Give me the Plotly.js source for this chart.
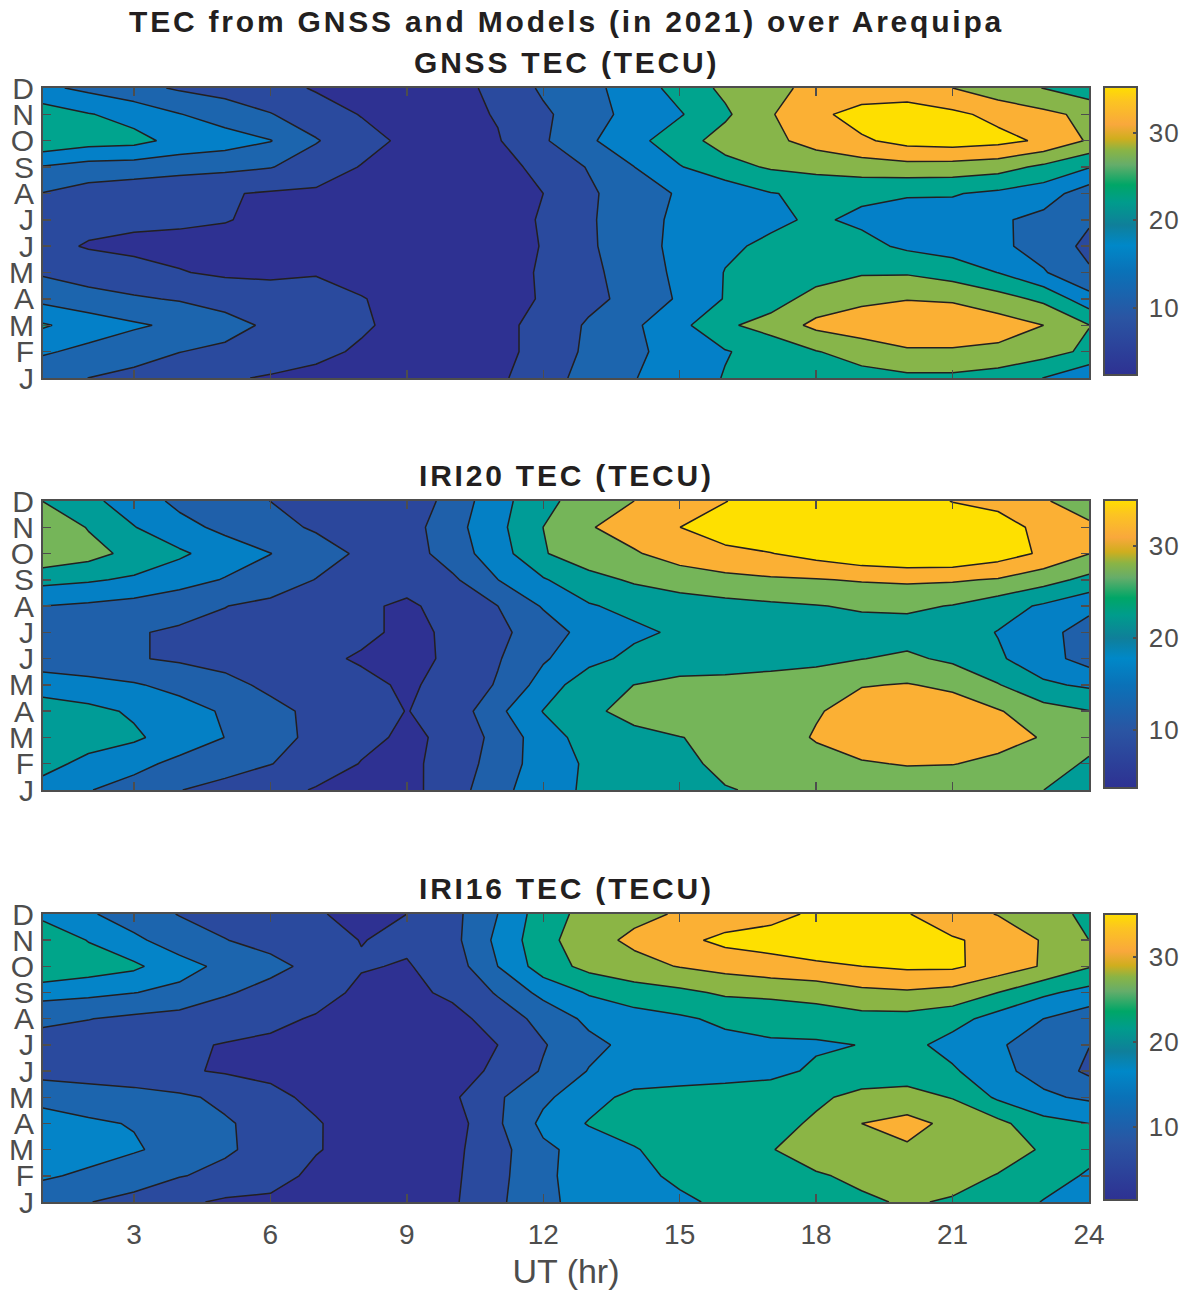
<!DOCTYPE html>
<html>
<head>
<meta charset="utf-8">
<script src="https://cdn.plot.ly/plotly-3.0.1.min.js"></script>
<style>
html,body{margin:0;padding:0;background:#fff}
.annotation-text{letter-spacing:2.8px}
.xtick text{letter-spacing:1.5px}
.cbaxis text{letter-spacing:1px}
</style>
</head>
<body>
<div id="chart" style="width:1192px;height:1290px"></div>
<script>
const hours = [1,2,3,4,5,6,7,8,9,10,11,12,13,14,15,16,17,18,19,20,21,22,23,24];
const monthIndex = [1,2,3,4,5,6,7,8,9,10,11,12];
const monthLabels = ['J','F','M','A','M','J','J','A','S','O','N','D'];
const hourTicks = [3,6,9,12,15,18,21,24];

// rows run J (bottom) to D (top); columns run 1 to 24 UT
const gnssTec = [
[11.5,10.5,9.5,8.3,6.9,6,5.2,4.8,4.4,4.4,5.6,8.9,11.9,14.5,16.5,19,20,20.8,21.5,22,22,21,18.7,15.5],
[15.2,13.5,12,10.6,9.7,8.9,7.5,5.8,5,4.5,5,8,11.3,14,16,18.5,20.3,22.7,24.5,26.4,26.5,26,24.5,22],
[19.2,17,15.2,13.8,12,9.8,8.5,7,5,4.5,5,8,11,14,17.6,22.2,24.5,28,29.5,30.5,30,29,27,23],
[13.5,12,11,10.2,9,8.2,7.6,6.6,5,4.5,4.5,6.8,9.5,11.7,15.2,19,21,24.5,26,26.8,26.5,24.5,22,16.2],
[10,8.7,7.8,6.6,5.8,5.7,6.2,5,4.2,4,4.2,7,9.5,12.5,15.5,18.9,20,21,22.5,22.5,21,18.7,15,11],
[7.5,6.1,5.5,5.3,5,4.6,4.4,4.2,4,4,4.5,6.6,9.9,13,15.7,18.1,19.5,20,20,18,17,15.5,13,9.5],
[8,7.5,7.2,7,6.6,5.5,5,4.5,4.2,4.2,5,6.7,10,13,15.5,17,18,19.3,18,17.5,17.2,15.2,13.5,11],
[10.4,8.8,8,7.3,6.7,6,5.8,5,4.5,4.5,4.8,6.4,9.8,13,15,16,18.6,19.5,19.5,19,19,18,16.5,12.5],
[14.3,13,12.7,12,11.5,10.7,8.5,6.2,4.8,4.5,5,7.5,10.8,14.6,18.5,21.5,23.3,24.2,25,25.5,25.3,24.5,22,19],
[22,20.5,20,17.5,16.5,14.8,10.8,8,5.5,4.8,6.1,10,14,17.5,21.2,24.5,26,28.5,30.5,32.5,33,32.3,30.5,26.5],
[21,19,17.3,14.8,12.7,10.7,8.5,6.2,5,5,6.7,9.8,13,16,18.4,22.2,26.7,30,33,34.5,32,30,28,26],
[15.5,13.7,11.8,10,9,8,6,5,4.6,5.2,7.3,11.2,13.5,16.5,20.3,23.8,26,28,28,27.3,27,24.5,22.8,20.5]
];
const iri20Tec = [
[17.4,15.6,14,11.6,10.5,9.5,7.2,6.8,6.5,9.5,14.5,17.2,20.2,20.8,21.5,23,24,24.5,24.8,25,25,24.8,23.3,20],
[21,18,16.5,14.5,12.8,11.6,10.3,7.4,6.9,8.8,13.5,17.1,20,21,22,24.5,25,25.5,26.9,27.4,27.3,26.5,25,22.8],
[22,21.5,20,17.5,15.4,12.3,11,8.8,6.8,8.5,12.8,17.5,21,22.1,23.2,24,24.9,27.6,29,30.5,29.7,28.3,27,24.5],
[22,20.5,18.8,17,15,12.5,10.7,9.4,7.5,9,14.5,19.5,22.4,24.7,25.2,25.4,25.7,26.8,29,30,29,27.5,24.9,23.4],
[17,16.5,15.8,14.3,12.5,10.8,9.7,8.3,7.2,8.5,11.9,17,22,23.3,24.5,24.6,24.9,25.4,27,27.4,26.5,23.5,20,18.75],
[13.8,13.2,11.8,11,10.4,9.5,8.2,7.3,6.9,8,11.2,15,18,20.5,20.8,21.2,21.8,22.3,23.2,24,22.5,19.9,17,13.8],
[14.2,13.7,11.8,11,10.5,10,9.5,8.2,7,8,10.7,13.3,17,18.5,20,20.5,21,21.3,21.5,21.5,21.2,19.2,16.5,14],
[15.4,14.8,14,12.9,11.6,10.5,9.5,8,7.2,8.5,11.5,15.8,19,20.5,21.5,22,22.6,23.1,23.8,24,23.1,21,18.8,16.3],
[20.5,19.8,18.8,17,15.2,13.8,11.4,9.5,8.5,10.8,15.4,19,22,23.8,25,26.1,26.7,27,27.5,27.8,27.6,26.9,24.8,22.2],
[26.6,24.8,22,20,17.5,15.5,13.5,10.8,9.5,13.5,17.5,23,25.5,26.8,29,30.2,31,32.5,34.2,35,35,33,30.5,27.3],
[27,23,19.5,16.7,14.5,12.9,11,9.5,9.8,14,18.3,23.3,26.9,29,31.1,33,34,35,35,34.7,33.5,32.8,30,28],
[23.2,20.3,17.5,14.5,12.5,11.5,9.5,8.5,8.8,13,18,22,25.5,27.2,29.3,31,33,34,34.5,33,31,30,27.6,25]
];
const iri16Tec = [
[11,9.9,8.8,6.4,5,5,4.3,4,3.8,5,9,13.1,15.5,15.8,17.3,19.2,20,20.8,21.8,22.8,22,20.5,18,15],
[14.6,13.2,11.4,10,8.8,6.8,4.9,4.2,3.8,4.8,8.6,13.2,15.8,16.8,19.2,20,21,22,23.2,24,23.8,22.2,20,17.7],
[16.5,15.7,14.4,12.7,10.3,8.5,5.8,4.5,3.8,4.6,8.3,13.2,15.5,18,19.5,20.5,22.2,24.3,25.5,26,25.8,24.2,22,19.5],
[15,14.5,13.8,12,10.2,8.5,5.9,4,3.5,3.6,9.2,15,18.5,19.5,20,20.3,21,23,26.6,28,25.5,23.5,19.6,18.2],
[13.3,12.3,11.5,10.5,9,6.5,4.8,4,3.5,4.9,9.2,13.2,16.5,19.5,20,20.5,21,21.7,23.5,23.8,22.2,17.5,14.7,13.3],
[8,7.5,7,6.1,5.2,4.8,4.2,3.8,3.4,3.6,6.5,10.2,14.2,15.3,15.8,16.2,16.8,19,20,20.5,18.8,15,12.5,9],
[8.6,8,7.5,6.2,5.4,4.8,4.2,3.8,3.5,3.6,5.6,9.5,12.8,15.3,16.4,17,17.6,17.6,18.3,19.5,16.6,14.6,11.5,9.9],
[10.4,9.9,9,8.2,7.5,6.6,5.2,4.4,4,4,7.7,11,15,16.5,17.6,19,19.8,20.5,21,21,19.8,16.5,14,11.6],
[15.7,15,14.1,13,10.2,8.6,7.3,4.7,4.3,6.6,10.2,15.3,18.6,20.5,21.5,23,23.3,23.8,25.6,26.1,25.2,22.4,19,16.8],
[22,20.5,19,15.5,13,10.8,8.8,5.9,5.3,7.5,14,20.3,23.6,25.2,26.8,28,29.2,30.2,30.8,31.5,31.5,29,26.2,22.7],
[21.5,18,14.8,12,9.9,8.7,7,5.5,6.3,8.5,15,21,25,27.5,29.6,31.9,32.5,33,34.5,34.5,31.2,29.7,26.2,22.4],
[17,14.5,12,9.6,8.6,7.5,5.8,5,5.6,8.5,14,20.5,23.8,25.5,27,28.2,29.5,31.5,33,31,28.5,26.4,24,21.5]
];

const panelTitles = ['GNSS TEC (TECU)','IRI20 TEC (TECU)','IRI16 TEC (TECU)'];
const panelData = [gnssTec, iri20Tec, iri16Tec];
const bandColors = [
  ['#2e3192','#2a4a9e','#1c65ae','#0480c8','#00a48e','#87b54a','#fbb034','#fedf00'],
  ['#2e3192','#2b479c','#1f60aa','#0480c5','#009c97','#75b559','#fbb034','#fee000'],
  ['#2e3192','#2a4a9e','#1c65ae','#0484c8','#00a58a','#8bb545','#fbb034','#fee000']
];
const levelStart = [6.4, 7.6, 5.6];
const levelEnd = [31.2, 31.2, 30.9];
const levelSize = [4.12, 3.92, 4.2];
const barMin = [2.3, 3.7, 1.4];
const barMax = [35.2, 35, 35];

const barScale = [[0,'#2e3192'],[0.2,'#2a55a3'],[0.36,'#0a72b8'],[0.45,'#0088c8'],[0.52,'#0f7f9a'],[0.6,'#009c8c'],[0.66,'#00a667'],[0.73,'#65ad6a'],[0.78,'#8ab445'],[0.82,'#cfae1e'],[0.87,'#f9a83c'],[0.95,'#fcc422'],[1,'#fede00']];

const W = 1192, H = 1290, GREY = '#4d4d4d', TXT = '#231f20';
const plotLeft = 43, plotRight = 1089;
const plotTop = [88, 501, 914], plotBottom = [378, 790, 1202];
const barTop = [87, 500, 914], barBottom = [375, 788, 1200];

const traces = [], layout = {
  width: W, height: H, margin: {l:0,r:0,t:0,b:0}, showlegend:false,
  paper_bgcolor:'#fff', plot_bgcolor:'#fff',
  font:{family:'"Liberation Sans", Arial, sans-serif', color:GREY},
  annotations:[{
    text:'<b>TEC from GNSS and Models (in 2021) over Arequipa</b>', x:566/W, y:1-22/H, xref:'paper', yref:'paper',
    xanchor:'center', yanchor:'middle', showarrow:false, font:{size:30,color:TXT}
  }]
};

panelData.forEach((z,i)=>{
  const n = i+1, ax = n===1?'':String(n);
  traces.push({
    type:'heatmap', x:hours, y:monthIndex, z:z, xaxis:'x'+ax, yaxis:'y'+ax,
    zmin:barMin[i], zmax:barMax[i], colorscale:barScale, hoverinfo:'skip', showscale:true,
    colorbar:{
      x:1104/W, xanchor:'left', xref:'paper', y:1-barBottom[i]/H, yanchor:'bottom', yref:'paper',
      len:(barBottom[i]-barTop[i])/H, lenmode:'fraction', thickness:33, thicknessmode:'pixels',
      xpad:0, ypad:0, outlinecolor:GREY, outlinewidth:2,
      tickvals:[10,20,30], ticks:'inside', ticklen:5, tickwidth:2, tickcolor:GREY,
      tickfont:{size:26,color:GREY}, ticklabelposition:'outside'
    }
  });
  const nb = bandColors[i].length - 1;
  traces.push({
    type:'contour', x:hours, y:monthIndex, z:z, xaxis:'x'+ax, yaxis:'y'+ax,
    showscale:false, line:{color:TXT,width:1.5,smoothing:0},
    contours:{coloring:'fill', start:levelStart[i], end:levelEnd[i], size:levelSize[i]},
    colorscale:bandColors[i].map((c,k)=>[k/nb,c])
  });
  layout['xaxis'+ax] = {
    domain:[plotLeft/W, plotRight/W], range:[1,24], anchor:'y'+ax,
    tickvals:hourTicks, ticks:'inside', ticklen:8, tickwidth:1.5, tickcolor:GREY,
    showline:true, linecolor:GREY, linewidth:2, mirror:'ticks', showgrid:false, zeroline:false,
    showticklabels:n===3, tickfont:{size:28,color:GREY}, ticklabelstandoff:6,
    title: n===3 ? {text:'UT (hr)', font:{size:34,color:GREY}, standoff:11} : undefined
  };
  layout['yaxis'+ax] = {
    domain:[1-plotBottom[i]/H, 1-plotTop[i]/H], range:[1,12], anchor:'x'+ax,
    tickmode:'array', tickvals:monthIndex, ticktext:monthLabels,
    ticks:'inside', ticklen:8, tickwidth:1.5, tickcolor:GREY,
    showline:true, linecolor:GREY, linewidth:2, mirror:'ticks', showgrid:false, zeroline:false,
    tickfont:{size:30,color:GREY}, ticklabelstandoff:1
  };
  layout.annotations.push({
    text:'<b>'+panelTitles[i]+'</b>', x:566/W, y:1-(plotTop[i]-26)/H, xref:'paper', yref:'paper',
    xanchor:'center', yanchor:'middle', showarrow:false, font:{size:30,color:TXT}
  });
});

Plotly.newPlot('chart', traces, layout, {staticPlot:true, displayModeBar:false}).then(()=>{
  document.querySelectorAll('.cbaxis text').forEach(t=>t.setAttribute('dx','5'));
});
</script>
</body>
</html>
